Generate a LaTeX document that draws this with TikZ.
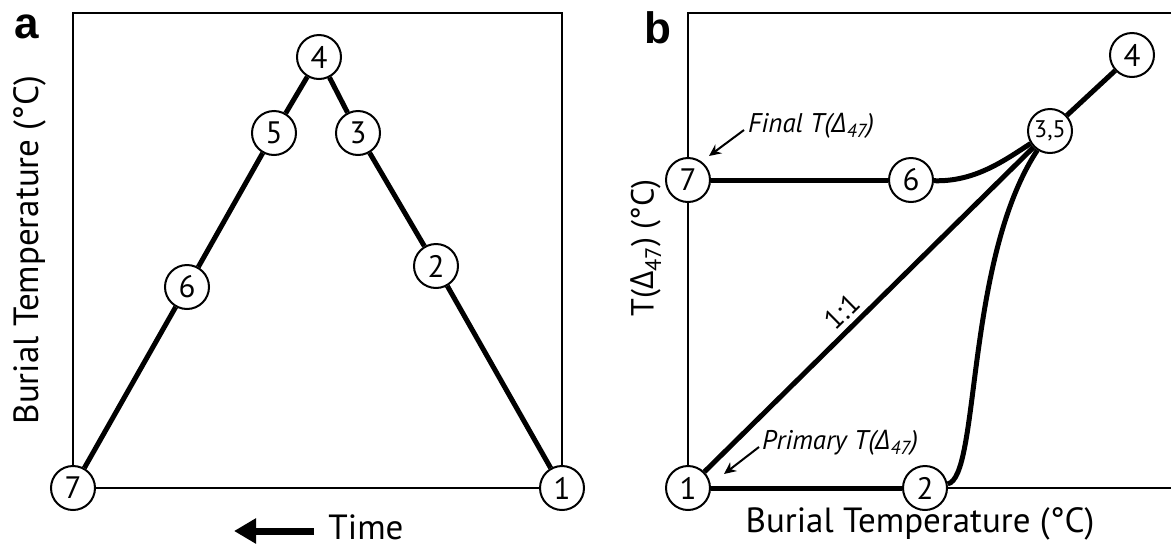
\documentclass[tikz,border=0pt]{standalone}
\usepackage{fontspec}
\setmainfont{PT Sans}
\newfontfamily\grk{Open Sans}
\newfontfamily\lblfont{Liberation Sans}
\usetikzlibrary{arrows.meta}

\newcommand{\dlt}{{\grk Δ}}

\begin{document}
\begin{tikzpicture}[x=1pt,y=-1pt,
  frame/.style={line width=2pt},
  track/.style={line width=5pt},
  state/.style={circle, draw, line width=2pt, fill=white, minimum size=44pt,
    inner sep=0pt, font=\fontsize{31}{31}\selectfont},
  axislabel/.style={font=\fontsize{35}{35}\selectfont, inner sep=0pt},
  note/.style={font=\fontsize{27}{27}\selectfont\itshape, inner sep=0pt, anchor=west},
  pointer/.style={line width=2pt, -{Stealth[length=12pt,width=11pt]}},
  panel/.style={font=\lblfont\bfseries\fontsize{44}{44}\selectfont, inner sep=0pt}
]
\useasboundingbox (0,0) rectangle (1171,547);

% frames
\draw[frame] (73,13) rectangle (562,488);
\draw[frame] (1171,13) -- (688,13) -- (688,488) -- (1171,488);

% panel labels
\node[panel] (pa) at (27,27) {a};
\node[panel] (pb) at (658,28) {b};

% ---- panel a: burial history ----
\node[state] (a7) at (73,488) {7};
\node[state] (a6) at (187,287) {6};
\node[state] (a5) at (274,133) {5};
\node[state] (a4) at (319,57) {4};
\node[state] (a3) at (358,133) {3};
\node[state] (a2) at (436,266) {2};
\node[state] (a1) at (562,488) {1};

\draw[track] (a7) -- (a6) -- (a5) -- (a4) -- (a3) -- (a2) -- (a1);

\node[axislabel, rotate=90] (ya) at (30,250) {Burial Temperature (°C)};
\node[axislabel] (time) at (366,527) {Time};
\coordinate (tTail) at (314,531);
\coordinate (tHead) at (234,531);
\draw[line width=7pt, -{Triangle[length=22pt,width=24pt]}] (tTail) -- (tHead);

% ---- panel b: clumped-isotope temperature vs burial temperature ----
\node[state] (b7) at (688,180) {7};
\node[state] (b6) at (911,180) {6};
\node[state, font=\fontsize{24}{24}\selectfont] (b35) at (1050,131) {3,5};
\node[state] (b4) at (1132,55) {4};
\node[state] (b1) at (688,488) {1};
\node[state] (b2) at (925,488) {2};

\draw[track] (b7) -- (b6);
\draw[track] (b1) -- (b2);
\draw[track] (b1) -- (b35);
\draw[track] (b35) -- (b4);
\draw[track] (b6) .. controls (975,182) and (1005,160) .. (b35);
\draw[track] (b2) .. controls (980,478) and (965,260) .. (b35);
\node[rotate=44.6, inner sep=0pt, font=\fontsize{28}{28}\selectfont] (ratio) at (842,312) {1:1};

\node[axislabel] (xb) at (920,524) {Burial Temperature (°C)};
\node[axislabel, rotate=90, font=\fontsize{32}{32}\selectfont] (yb) at (646,248) {T(\dlt\textsubscript{47}) (°C)};

\node[note] (final) at (748,126) {Final T(\dlt\textsubscript{47})};
\node[note] (primary) at (762,443) {Primary T(\dlt\textsubscript{47})};
\coordinate (fTail) at (744,130);
\coordinate (fHead) at (709,156);
\coordinate (pTail) at (759,447);
\coordinate (pHead) at (724,474);
\draw[pointer] (fTail) -- (fHead);
\draw[pointer] (pTail) -- (pHead);
\end{tikzpicture}
\end{document}
